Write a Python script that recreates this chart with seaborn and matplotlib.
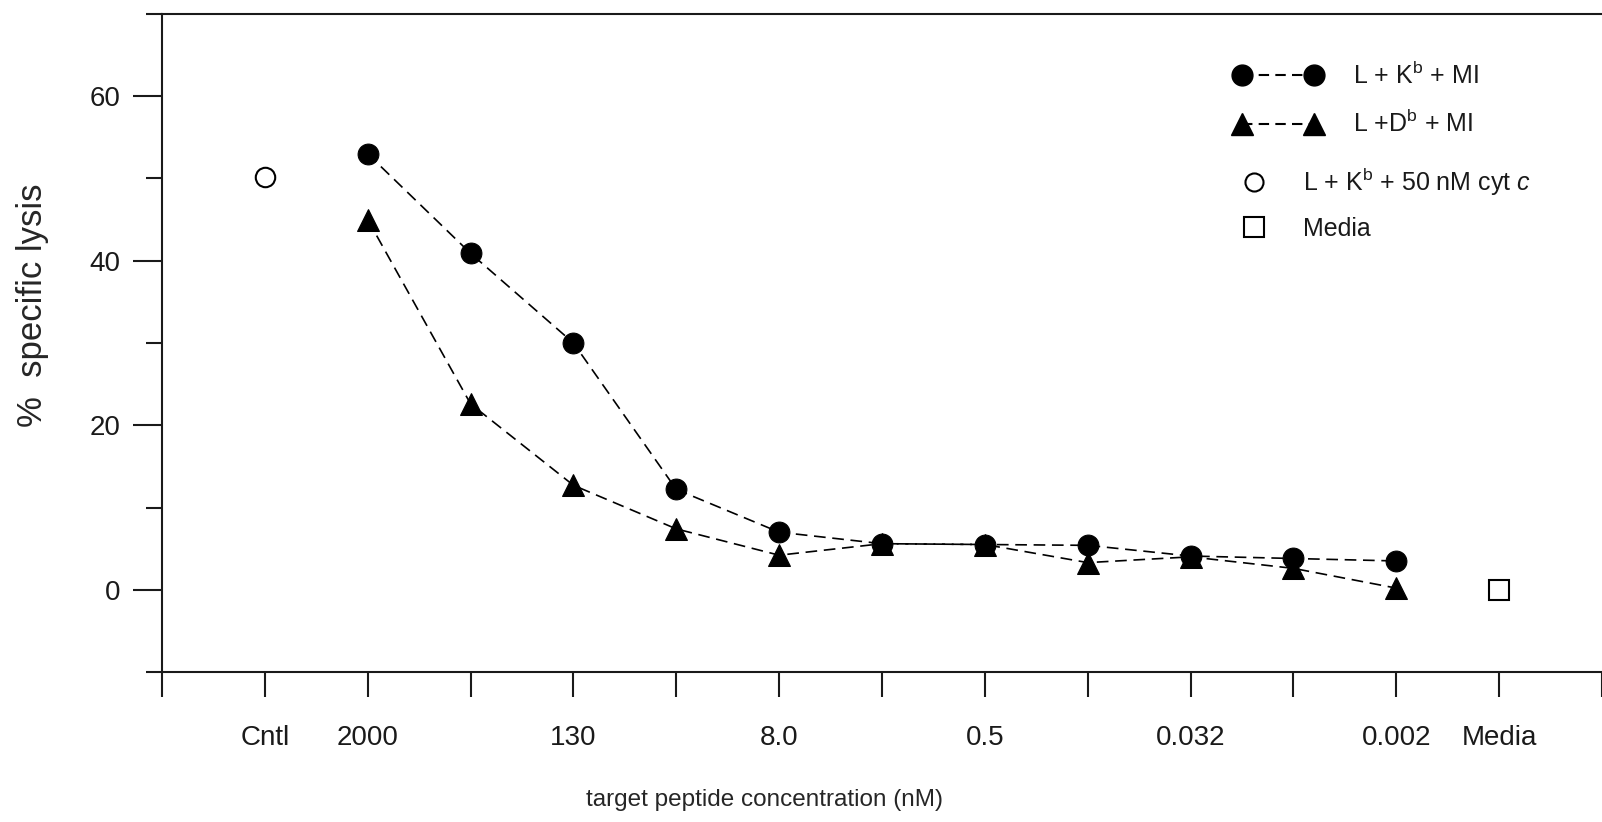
import matplotlib
matplotlib.use("Agg")
import matplotlib.pyplot as plt
import seaborn as sns
import pandas as pd
from matplotlib.lines import Line2D
from matplotlib.legend_handler import HandlerLine2D

# ---------------- data ----------------
tick_positions = list(range(0, 15))
tick_labels = ["", "Cntl", "2000", "", "130", "", "8.0", "", "0.5", "",
               "0.032", "", "0.002", "Media", ""]
dilution_pos = [2, 3, 4, 5, 6, 7, 8, 9, 10, 11, 12]
kb_mi = [53.0, 40.9, 30.0, 12.2, 7.0, 5.6, 5.5, 5.4, 4.1, 3.8, 3.5]
db_mi = [45.0, 22.6, 12.7, 7.4, 4.2, 5.6, 5.5, 3.3, 4.0, 2.6, 0.2]
cntl_pos = [1]
cntl_val = [50.2]
media_pos = [13]
media_val = [0.0]

label_kb = r"L + K$^{\mathrm{b}}$ + MI"
label_db = r"L +D$^{\mathrm{b}}$ + MI"
label_cntl = r"L + K$^{\mathrm{b}}$ + 50 nM cyt $\mathit{c}$"
label_media = "Media"

# ---------------- style ----------------
sns.set_style("ticks")
plt.rcParams["font.family"] = ["Liberation Sans", "DejaVu Sans"]
plt.rcParams["mathtext.fontset"] = "custom"
plt.rcParams["mathtext.rm"] = "Liberation Sans"
plt.rcParams["mathtext.it"] = "Liberation Sans:italic"
plt.rcParams["mathtext.bf"] = "Liberation Sans:bold"
plt.rcParams["axes.edgecolor"] = "#1a1a1a"
plt.rcParams["xtick.color"] = "#1a1a1a"
plt.rcParams["ytick.color"] = "#1a1a1a"
plt.rcParams["text.color"] = "#1a1a1a"

W, H = 1602, 822
fig = plt.figure(figsize=(W / 100, H / 100), dpi=100)
ax = fig.add_axes([162 / W, (H - 672) / H, (W - 162) / W, (672 - 14) / H])

df_kb = pd.DataFrame({"x": dilution_pos, "y": kb_mi})
df_db = pd.DataFrame({"x": dilution_pos, "y": db_mi})
df_c = pd.DataFrame({"x": cntl_pos, "y": cntl_val})
df_m = pd.DataFrame({"x": media_pos, "y": media_val})

dash = (0, (7, 4))
sns.lineplot(data=df_kb, x="x", y="y", ax=ax, color="black", marker="o",
             markersize=15, markeredgecolor="black", markerfacecolor="black",
             linestyle=dash, linewidth=1.2, legend=False)
sns.lineplot(data=df_db, x="x", y="y", ax=ax, color="black", marker="^",
             markersize=15.5, markeredgecolor="black", markerfacecolor="black",
             linestyle=dash, linewidth=1.2, legend=False)
sns.lineplot(data=df_c, x="x", y="y", ax=ax, color="black", marker="o",
             markersize=14, markeredgecolor="black", markerfacecolor="white",
             markeredgewidth=1.5, linestyle="none", legend=False)
sns.lineplot(data=df_m, x="x", y="y", ax=ax, color="black", marker="s",
             markersize=15, markeredgecolor="black", markerfacecolor="white",
             markeredgewidth=1.5, linestyle="none", legend=False)

# ---------------- axes ----------------
ax.set_xlim(0, 14)
ax.set_ylim(-10, 70)
ax.spines["right"].set_visible(False)
for s in ("left", "bottom", "top"):
    ax.spines[s].set_linewidth(1.5)

ax.set_xticks(tick_positions)
ax.set_xticklabels(tick_labels)
ax.tick_params(axis="x", which="major", direction="out", length=18, width=1.5,
               pad=20, labelsize=20)
ax.set_yticks([0, 20, 40, 60])
ax.set_yticks([-10, 10, 30, 50, 70], minor=True)
ax.tick_params(axis="y", which="major", direction="out", length=21, width=1.5,
               pad=9, labelsize=20)
ax.tick_params(axis="y", which="minor", direction="out", length=11.5, width=1.5)

ax.set_xlabel("target peptide concentration (nM)", fontsize=17.5)
ax.xaxis.label.set_va("center")
ax.xaxis.set_label_coords((764 - 162) / 1440, (672 - 800) / 658)

ax.set_ylabel("%  specific lysis", fontsize=25)
ax.yaxis.label.set_va("center")
ax.yaxis.label.set_ha("center")
ax.yaxis.set_label_coords((33 - 162) / 1440, (672 - 305) / 658)

# ---------------- legends ----------------
h_kb = Line2D([], [], color="black", marker="o", markersize=15,
              linestyle=(0, (5, 3)), linewidth=1.5)
h_db = Line2D([], [], color="black", marker="^", markersize=15.5,
              linestyle=(0, (5, 3)), linewidth=1.5)
leg1 = ax.legend([h_kb, h_db], [label_kb, label_db], loc="upper left",
                 bbox_to_anchor=(1234 / W, 1 - 62 / H),
                 bbox_transform=fig.transFigure, frameon=False, borderpad=0,
                 borderaxespad=0, handlelength=3.5, handletextpad=1.25,
                 labelspacing=0.85, fontsize=18, numpoints=2)
ax.add_artist(leg1)

h_c = Line2D([], [], color="black", marker="o", markersize=13,
             markerfacecolor="white", markeredgewidth=1.5, linestyle="none")
h_m = Line2D([], [], color="black", marker="s", markersize=14,
             markerfacecolor="white", markeredgewidth=1.5, linestyle="none")
leg2 = ax.legend([h_c, h_m], [label_cntl, label_media], loc="upper left",
                 bbox_to_anchor=(1243 / W, 1 - 166 / H),
                 bbox_transform=fig.transFigure, frameon=False, borderpad=0,
                 borderaxespad=0, handlelength=0.9, handletextpad=1.5,
                 labelspacing=0.75, fontsize=18, numpoints=1,
                 handler_map={h_c: HandlerLine2D(numpoints=1),
                              h_m: HandlerLine2D(numpoints=1)})

fig.savefig("out.png", dpi=100, facecolor="white")
